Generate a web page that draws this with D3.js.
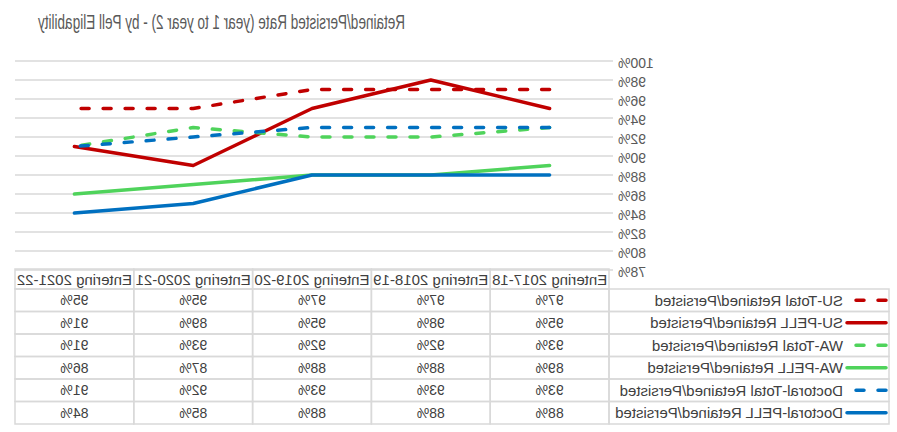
<!DOCTYPE html>
<html lang="en">
<head>
    <style>
        body { margin: 0; background: #fff; }
        text { font-family: "Liberation Sans", Arial, sans-serif; }
        .grid line { stroke: #d9d9d9; stroke-width: 1.5; }
        .cell { stroke: #d9d9d9; stroke-width: 1.5; fill: none; }
    </style>
    <script src="https://d3js.org/d3.v7.min.js"></script>
</head>
<body>
    <svg width="897" height="432"></svg>
    <script>
        var categories = ["Entering 2017-18", "Entering 2018-19", "Entering 2019-20", "Entering 2020-21", "Entering 2021-22"];
        var seriesNames = ["SU-Total Retained/Persisted", "SU-PELL Retained/Persisted", "WA-Total Retained/Persisted",
                           "WA-PELL Retained/Persisted", "Doctoral-Total Retained/Persisted", "Doctoral-PELL Retained/Persisted"];
        var suTotal = [97, 97, 97, 95, 95];
        var suPell = [95, 98, 95, 89, 91];
        var waTotal = [93, 92, 92, 93, 91];
        var waPell = [89, 88, 88, 87, 86];
        var docTotal = [93, 93, 93, 92, 91];
        var docPell = [88, 88, 88, 85, 84];
        var yTicks = [78, 80, 82, 84, 86, 88, 90, 92, 94, 96, 98, 100];

        var colors = ["#c00000", "#c00000", "#4fd35b", "#4fd35b", "#0070c0", "#0070c0"];
        var dashed = [true, false, true, false, true, false];
        var values = [suTotal, suPell, waTotal, waPell, docTotal, docPell];

        var svg = d3.select("svg");
        // the reference picture is a mirror image, so draw normally and flip
        var root = svg.append("g").attr("transform", "translate(897,0) scale(-1,1)");

        var x = d3.scaleBand().domain(categories).range([288, 882]);
        var y = d3.scaleLinear().domain([78, 100]).range([270, 61]);

        root.append("text")
            .attr("x", 492).attr("y", 29)
            .attr("font-size", "21px")
            .attr("fill", "#595959")
            .attr("textLength", 367)
            .attr("lengthAdjust", "spacingAndGlyphs")
            .text("Retained/Persisted Rate (year 1 to year 2) - by Pell Eligability");

        // gridlines
        root.append("g").attr("class", "grid")
            .selectAll("line").data(yTicks).enter().append("line")
            .attr("x1", 284).attr("x2", 882)
            .attr("y1", function(d) { return y(d); })
            .attr("y2", function(d) { return y(d); });

        root.append("g").selectAll("text").data(yTicks).enter().append("text")
            .attr("x", 279)
            .attr("y", function(d) { return y(d) + 2; })
            .attr("dy", "0.35em")
            .attr("text-anchor", "end")
            .attr("font-size", "14px")
            .attr("fill", "#595959")
            .text(function(d) { return d + "%"; });

        // data table
        var tableTop = 269, headH = 20, rowH = 22.5;
        var tbl = root.append("g");
        tbl.selectAll(".head").data(categories).enter().append("rect")
            .attr("class", "cell")
            .attr("x", function(d) { return x(d); })
            .attr("y", tableTop)
            .attr("width", x.bandwidth())
            .attr("height", headH);
        tbl.selectAll(".htext").data(categories).enter().append("text")
            .attr("x", function(d) { return x(d) + x.bandwidth() / 2; })
            .attr("y", tableTop + 15.5)
            .attr("text-anchor", "middle")
            .attr("font-size", "15px")
            .attr("fill", "#404040")
            .text(function(d) { return d; });

        seriesNames.forEach(function(name, i) {
            var ry = tableTop + headH + i * rowH;
            tbl.append("rect").attr("class", "cell")
                .attr("x", 8).attr("y", ry)
                .attr("width", 280).attr("height", rowH);
            tbl.append("line")
                .attr("x1", 11).attr("x2", 50)
                .attr("y1", ry + rowH / 2).attr("y2", ry + rowH / 2)
                .attr("stroke", colors[i]).attr("stroke-width", 3.5)
                .attr("stroke-linecap", "round")
                .attr("stroke-dasharray", dashed[i] ? "8,14" : null);
            tbl.append("text")
                .attr("x", 54).attr("y", ry + rowH / 2)
                .attr("dy", "0.35em")
                .attr("font-size", "15px")
                .attr("fill", "#404040")
                .text(name);
            categories.forEach(function(c, j) {
                tbl.append("rect").attr("class", "cell")
                    .attr("x", x(c)).attr("y", ry)
                    .attr("width", x.bandwidth()).attr("height", rowH);
                tbl.append("text")
                    .attr("x", x(c) + x.bandwidth() / 2)
                    .attr("y", ry + rowH / 2)
                    .attr("dy", "0.35em")
                    .attr("text-anchor", "middle")
                    .attr("font-size", "14px")
                    .attr("fill", "#404040")
                    .text(values[i][j] + "%");
            });
        });

        // series lines
        var line = d3.line()
            .x(function(d, j) { return x(categories[j]) + x.bandwidth() / 2; })
            .y(function(d) { return y(d); });

        values.forEach(function(v, i) {
            root.append("path")
                .datum(v)
                .attr("d", line)
                .attr("fill", "none")
                .attr("stroke", colors[i])
                .attr("stroke-width", 3.5)
                .attr("stroke-linecap", "round")
                .attr("stroke-linejoin", "round")
                .attr("stroke-dasharray", dashed[i] ? "8,14" : null);
        });
    </script>
</body>
</html>
